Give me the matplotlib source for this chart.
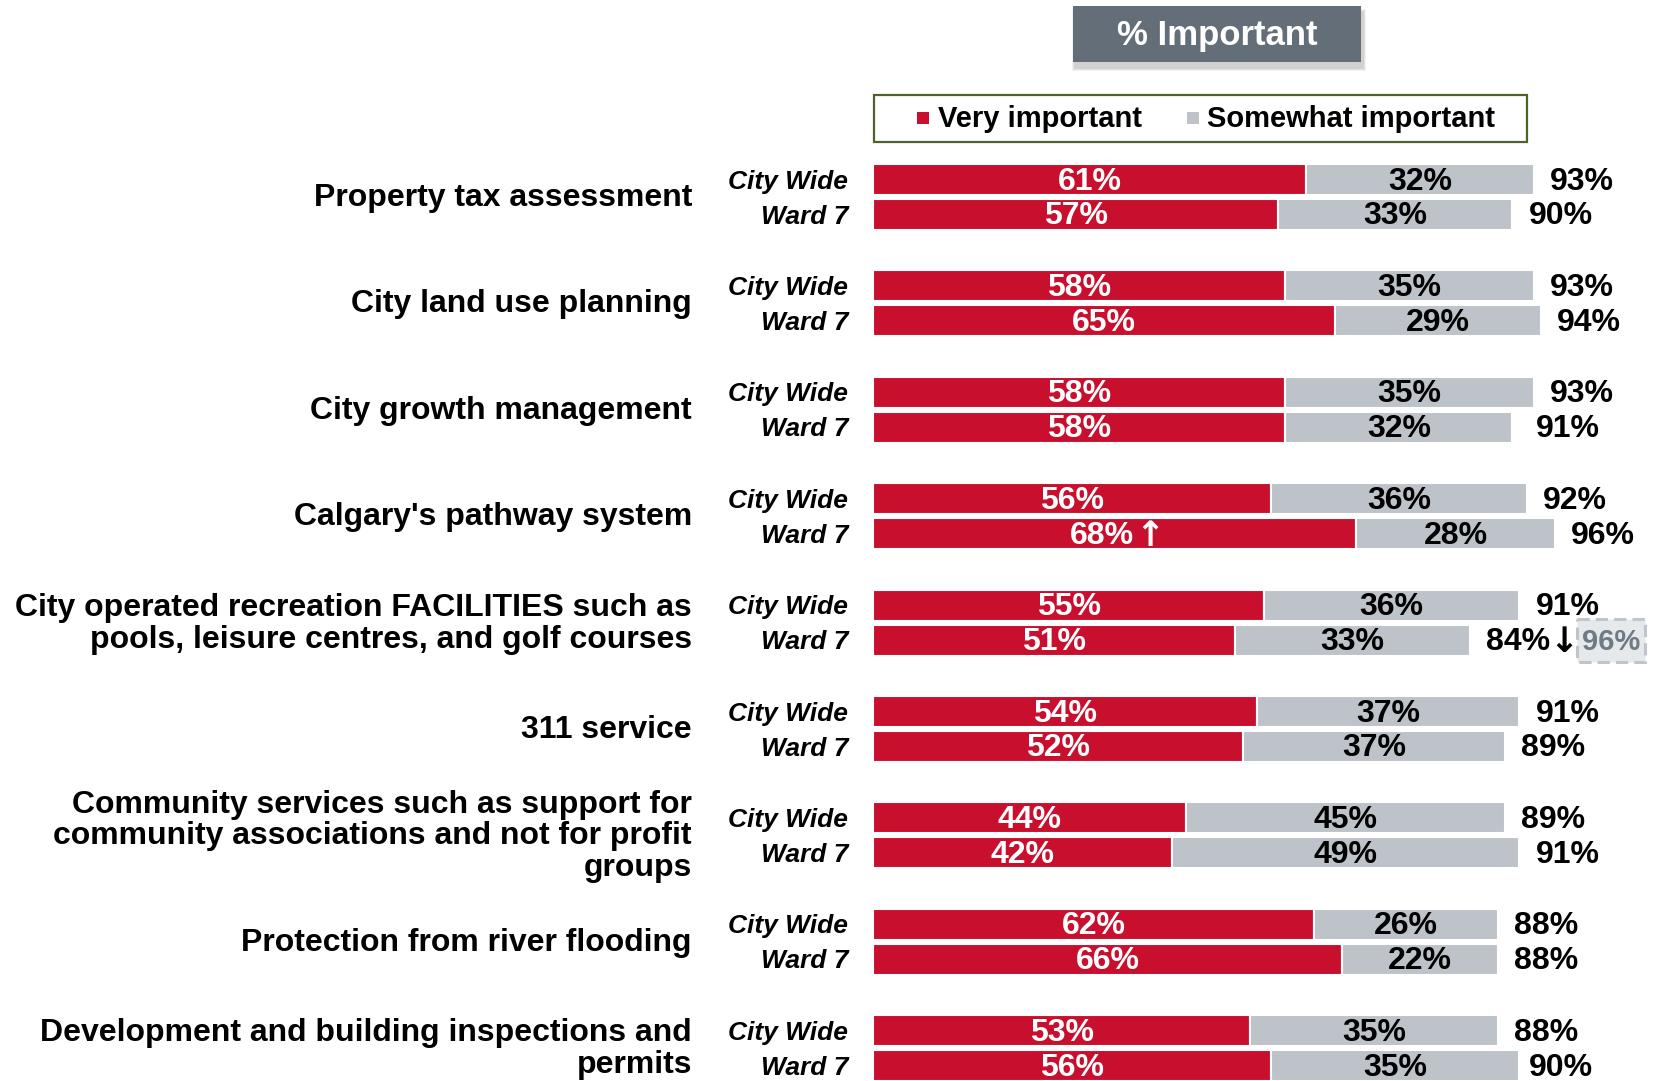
import matplotlib
matplotlib.use("Agg")
import matplotlib.pyplot as plt
from matplotlib.patches import Rectangle

# ---------------- data ----------------
categories = [
    "Property tax assessment",
    "City land use planning",
    "City growth management",
    "Calgary's pathway system",
    "City operated recreation FACILITIES such as\npools, leisure centres, and golf courses",
    "311 service",
    "Community services such as support for\ncommunity associations and not for profit\ngroups",
    "Protection from river flooding",
    "Development and building inspections and\npermits",
]
segments = ["City Wide", "Ward 7"]
cw_very = [61, 58, 58, 56, 55, 54, 44, 62, 53]
cw_some = [32, 35, 35, 36, 36, 37, 45, 26, 35]
cw_total = [93, 93, 93, 92, 91, 91, 89, 88, 88]
w7_very = [57, 65, 58, 68, 51, 52, 42, 66, 56]
w7_some = [33, 29, 32, 28, 33, 37, 49, 22, 35]
w7_total = [90, 94, 91, 96, 84, 89, 91, 88, 90]
# significance markers (Ward 7 vs City Wide)
w7_very_mark = ["", "", "", "\u2191", "", "", "", "", ""]
w7_total_mark = ["", "", "", "", "\u2193", "", "", "", ""]
w7_prev_total = [None, None, None, None, 96, None, None, None, None]

# ---------------- style ----------------
C_RED = "#C8102E"
C_GRAY = "#BDC3C9"
C_HEAD = "#646E78"
C_LEG_BD = "#4F6228"
FONT = ["Liberation Sans", "DejaVu Sans"]
ARROW_FONT = ["DejaVu Sans"]
FS = 23

W, H = 1656, 1081
X0 = 873.4          # pixel position of 0 %
PX = 7.10           # pixels per percent

fig = plt.figure(figsize=(W / 100, H / 100), dpi=100)
fig.patch.set_facecolor("white")
ax = fig.add_axes([0, 0, 1, 1])
ax.set_xlim(-X0 / PX, (W - X0) / PX)
ax.set_ylim(H, 0)
ax.axis("off")


def xp(px):
    """pixel x -> data (percent) x"""
    return (px - X0) / PX


def wp(px):
    return px / PX


# ---------------- bars ----------------
y_cw = [179.5 + 106.4 * i for i in range(len(categories))]
y_w7 = [y + 35 for y in y_cw]
BH = 31
DY = 2  # text nudge

for ys, very, some, total in [(y_cw, cw_very, cw_some, cw_total),
                              (y_w7, w7_very, w7_some, w7_total)]:
    ax.barh(ys, very, height=BH, color=C_RED, edgecolor="white", linewidth=1.5, zorder=2)
    ax.barh(ys, some, left=very, height=BH, color=C_GRAY, edgecolor="white",
            linewidth=1.5, zorder=2)

for i in range(len(categories)):
    # very important labels
    ax.text(cw_very[i] / 2, y_cw[i] + DY, f"{cw_very[i]}%", ha="center", va="center",
            fontsize=FS, fontweight="bold", color="white", family=FONT, zorder=3)
    if w7_very_mark[i]:
        ax.text(w7_very[i] / 2 - wp(13), y_w7[i] + DY, f"{w7_very[i]}%",
                ha="center", va="center", fontsize=FS, fontweight="bold",
                color="white", family=FONT, zorder=3)
        ax.text(w7_very[i] / 2 + wp(35), y_w7[i] + DY, w7_very_mark[i],
                ha="center", va="center", fontsize=FS + 2, fontweight="bold",
                color="white", family=ARROW_FONT, zorder=3)
    else:
        ax.text(w7_very[i] / 2, y_w7[i] + DY, f"{w7_very[i]}%", ha="center",
                va="center", fontsize=FS, fontweight="bold", color="white",
                family=FONT, zorder=3)
    # somewhat important labels
    ax.text(cw_very[i] + cw_some[i] / 2, y_cw[i] + DY, f"{cw_some[i]}%", ha="center",
            va="center", fontsize=FS, fontweight="bold", color="black", family=FONT, zorder=3)
    ax.text(w7_very[i] + w7_some[i] / 2, y_w7[i] + DY, f"{w7_some[i]}%", ha="center",
            va="center", fontsize=FS, fontweight="bold", color="black", family=FONT, zorder=3)
    # totals
    ax.text(cw_total[i] + wp(16), y_cw[i] + DY, f"{cw_total[i]}%", ha="left",
            va="center", fontsize=FS, fontweight="bold", color="black", family=FONT,
            zorder=3)
    ax.text(w7_total[i] + wp(16), y_w7[i] + DY, f"{w7_total[i]}%", ha="left",
            va="center", fontsize=FS, fontweight="bold", color="black", family=FONT,
            zorder=3)
    if w7_total_mark[i]:
        ax.text(w7_total[i] + wp(94), y_w7[i] + DY, w7_total_mark[i], ha="center",
                va="center", fontsize=FS + 2, fontweight="bold", color="black",
                family=ARROW_FONT, zorder=3)
    # segment names
    for y, seg in zip([y_cw[i], y_w7[i]], segments):
        ax.text(xp(848), y + DY, seg, ha="right", va="center", fontsize=19,
                fontweight="bold", style="italic", family=FONT, color="black")
    # category label
    ax.text(xp(692), (y_cw[i] + y_w7[i]) / 2 + 1, categories[i], ha="right",
            va="center", fontsize=FS, fontweight="bold", family=FONT,
            color="black", linespacing=1.08)

    # previous wave value, dashed box
    if w7_prev_total[i] is not None:
        ax.add_patch(Rectangle((xp(1577), y_w7[i] - 21), wp(68), 43,
                               facecolor="#E6E8EA", edgecolor="#BFC5CA",
                               linewidth=2.2, linestyle=(0, (4, 2)), zorder=2))
        ax.text(xp(1611), y_w7[i] + DY, f"{w7_prev_total[i]}%", ha="center",
                va="center", fontsize=21, fontweight="bold", color="#6E7A85",
                family=FONT, zorder=3)

# ---------------- header ----------------
for k, a in enumerate([0.05, 0.06, 0.08]):
    d = 3 - k
    ax.add_patch(Rectangle((xp(1073 + 2 - d), 8 - d + 4), wp(288 + 2 * d), 56 + 2 * d,
                           facecolor="black", edgecolor="none", alpha=a, zorder=1))
ax.add_patch(Rectangle((xp(1073), 6), wp(288), 56, facecolor=C_HEAD,
                       edgecolor="none", zorder=2))
ax.text(xp(1217), 36, "% Important", ha="center", va="center", fontsize=25,
        fontweight="bold", color="white", family=FONT, zorder=3)

# ---------------- legend ----------------
ax.add_patch(Rectangle((xp(874), 95), wp(653), 46.5, facecolor="white",
                       edgecolor=C_LEG_BD, linewidth=1.6, zorder=2))
ax.add_patch(Rectangle((xp(917), 112), wp(12), 12, facecolor=C_RED,
                       edgecolor="none", zorder=3))
ax.text(xp(938), 119, "Very important", ha="left", va="center", fontsize=21,
        fontweight="bold", family=FONT, zorder=3)
ax.add_patch(Rectangle((xp(1187), 112), wp(12), 12, facecolor=C_GRAY,
                       edgecolor="none", zorder=3))
ax.text(xp(1207), 119, "Somewhat important", ha="left", va="center", fontsize=21,
        fontweight="bold", family=FONT, zorder=3)

fig.savefig("out.png", dpi=100, facecolor="white")
